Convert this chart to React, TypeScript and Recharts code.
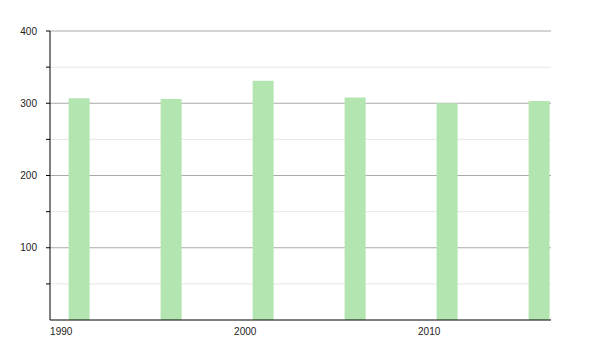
import { BarChart, Bar, XAxis, YAxis, CartesianGrid } from "recharts";

// census years and population counts
const years = [1991, 1996, 2001, 2006, 2011, 2016];
const population = [307, 306, 331, 308, 300, 303];

const xTicks = [1990, 2000, 2010];
const yTicks = [50, 100, 150, 200, 250, 300, 350, 400];
const majorLines = [100, 200, 300, 400];
const minorLines = [50, 150, 250, 350];

const rows = years.map((year, i) => ({ year, population: population[i] }));

const font = "'Liberation Sans', Arial, sans-serif";

// only label the hundreds, the fifties just get a tick mark
const YTick = (props: any) => {
  const { x, y, payload } = props;
  if (payload.value % 100 !== 0) return <g />;
  return (
    <text x={x} y={y} dy={3.5} textAnchor="end" fontSize={10} fontFamily={font} fill="#222">
      {payload.value}
    </text>
  );
};

export default function App() {
  return (
    <BarChart
      width={600}
      height={342}
      data={rows}
      margin={{ top: 23, right: 57, bottom: 0, left: 0 }}
    >
      <CartesianGrid vertical={false} horizontalValues={minorLines} stroke="#e6e6e6" />
      <CartesianGrid vertical={false} horizontalValues={majorLines} stroke="#aaaaaa" />
      <XAxis
        dataKey="year"
        type="number"
        domain={[1989.39, 2016.62]}
        allowDataOverflow
        ticks={xTicks}
        tickLine={false}
        axisLine={{ stroke: "#000" }}
        height={30}
        tickMargin={2}
        tick={{ fontSize: 10, fontFamily: font, fill: "#222" }}
      />
      <YAxis
        domain={[0, 400]}
        ticks={yTicks}
        width={42}
        tickSize={4}
        tickMargin={9}
        tickLine={{ stroke: "#000" }}
        axisLine={{ stroke: "#000" }}
        tick={<YTick />}
      />
      <Bar dataKey="population" fill="#b3e5b0" barSize={21} isAnimationActive={false} />
    </BarChart>
  );
}
